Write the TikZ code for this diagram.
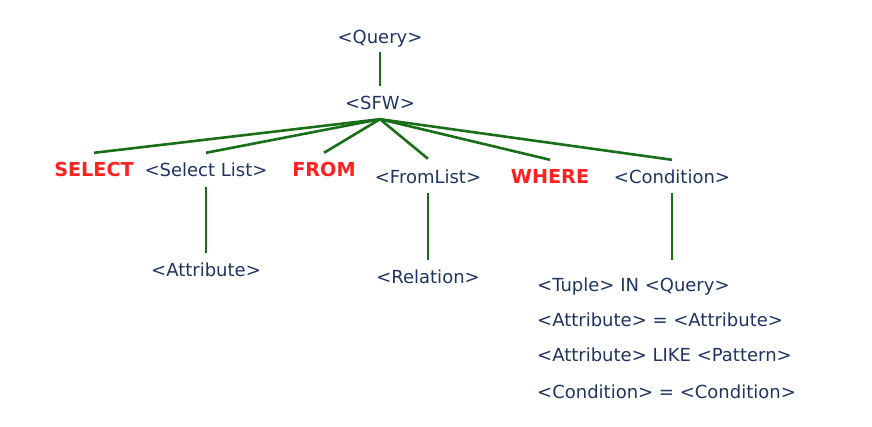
\documentclass[tikz,border=0pt]{standalone}
\usepackage{fontspec}
\setmainfont{DejaVu Sans}
\definecolor{navy}{HTML}{1F3460}
\definecolor{kwred}{HTML}{FF2020}
\definecolor{edgegreen}{HTML}{1A6E1A}
\begin{document}
\begin{tikzpicture}[x=1pt,y=-1pt,
  base/.style={inner sep=0pt,text height=15pt,text depth=2pt},
  nt/.style={base,text=navy,font=\fontsize{18}{21}\selectfont,anchor=center},
  kw/.style={base,text=kwred,font=\fontsize{19.2}{22}\selectfont\bfseries,anchor=center},
  cond/.style={base,text=navy,font=\fontsize{18}{21}\selectfont,anchor=west},
  edge/.style={draw=edgegreen,line width=2.6pt}]
\useasboundingbox (0,0) rectangle (872,427);
\node[nt] (query) at (380,37) {<Query>};
\node[nt] (sfw) at (380,103) {<SFW>};
\node[kw] (select) at (94,170) {SELECT};
\node[nt] (sellist) at (206,170) {<Select List>};
\node[kw] (from) at (324,170) {FROM};
\node[nt] (fromlist) at (428,177) {<FromList>};
\node[kw] (where) at (550,177) {WHERE};
\node[nt] (condition) at (672,177) {<Condition>};
\node[nt] (attr) at (206,270) {<Attribute>};
\node[nt] (rel) at (428,277) {<Relation>};
\node[cond] (c1) at (537,285) {<Tuple> IN <Query>};
\node[cond] (c2) at (537,320) {<Attribute> = <Attribute>};
\node[cond] (c3) at (537,355) {<Attribute> LIKE <Pattern>};
\node[cond] (c4) at (537,392) {<Condition> = <Condition>};
\coordinate (apex) at ([yshift=-7.5pt]sfw.south);
\draw[edge] ([yshift=-6.5pt]query.south) -- ([yshift=8.5pt]sfw.north);
\draw[edge] (apex) -- ([yshift=8.5pt]select.north);
\draw[edge] (apex) -- ([yshift=8.5pt]sellist.north);
\draw[edge] (apex) -- ([yshift=8.5pt]from.north);
\draw[edge] (apex) -- ([yshift=9.5pt]fromlist.north);
\draw[edge] (apex) -- ([yshift=8.5pt]where.north);
\draw[edge] (apex) -- ([yshift=8.5pt]condition.north);
\draw[edge] ([yshift=-8.5pt]sellist.south) -- ([yshift=8.5pt]attr.north);
\draw[edge] ([yshift=-7.5pt]fromlist.south) -- ([yshift=8.5pt]rel.north);
\draw[edge] ([yshift=-7.5pt]condition.south) -- ([yshift=16.5pt]condition.south |- c1.north);
\end{tikzpicture}
\end{document}
